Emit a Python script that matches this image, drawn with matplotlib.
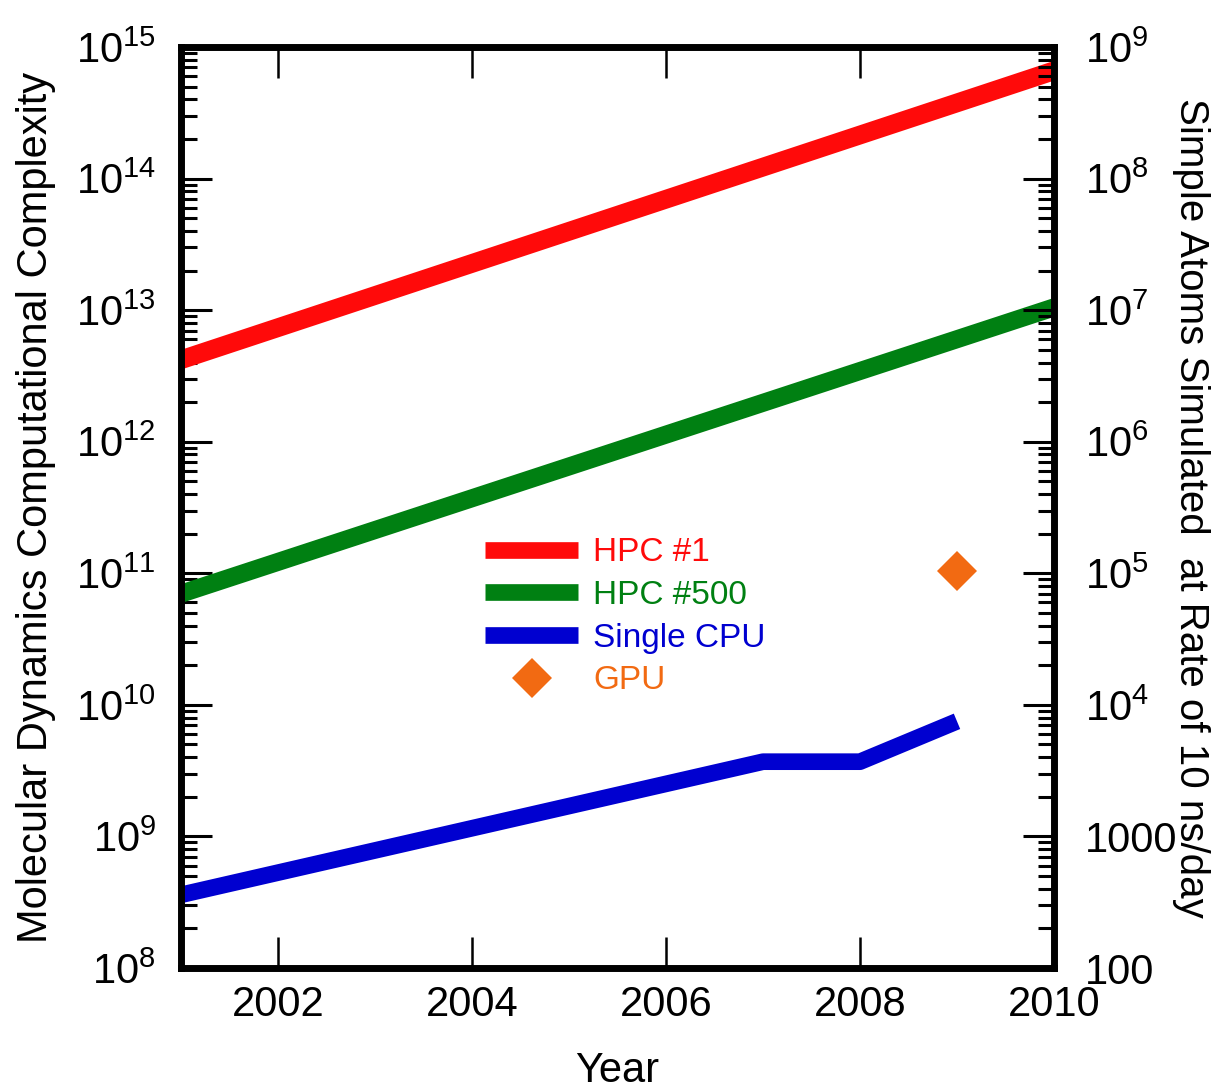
import matplotlib
matplotlib.use("Agg")
import matplotlib.pyplot as plt
from matplotlib.ticker import LogLocator, FixedLocator, FixedFormatter, NullFormatter
from matplotlib.lines import Line2D

plt.rcParams['font.family'] = ['Liberation Sans', 'DejaVu Sans']
plt.rcParams['mathtext.fontset'] = 'custom'
plt.rcParams['mathtext.rm'] = 'Liberation Sans'
plt.rcParams['mathtext.it'] = 'Liberation Sans'

# ---- data ----
hpc1_years = [2001, 2010]
hpc1_values = [4.2e12, 6.6e14]
hpc500_years = [2001, 2010]
hpc500_values = [7.0e10, 1.05e13]
cpu_years = [2001, 2007, 2008, 2009]
cpu_values = [3.6e8, 3.7e9, 3.7e9, 7.5e9]
gpu_years = [2009]
gpu_values = [1.05e11]

x_ticks = [2002, 2004, 2006, 2008, 2010]
x_ticklabels = ['2002', '2004', '2006', '2008', '2010']
right_ticks = [1e2, 1e3, 1e4, 1e5, 1e6, 1e7, 1e8, 1e9]
right_ticklabels = ['100', '1000', r'$\mathdefault{10^{4}}$', r'$\mathdefault{10^{5}}$',
                    r'$\mathdefault{10^{6}}$', r'$\mathdefault{10^{7}}$',
                    r'$\mathdefault{10^{8}}$', r'$\mathdefault{10^{9}}$']

c_red = '#ff0a0a'
c_green = '#008012'
c_blue = '#0000d0'
c_orange = '#f26a12'

fig = plt.figure(figsize=(12.24, 10.89), dpi=100)
ax = fig.add_axes([0.1479, 0.1111, 0.7132, 0.8457])

ax.plot(hpc1_years, hpc1_values, color=c_red, lw=13.5, solid_capstyle='butt', label='HPC #1')
ax.plot(hpc500_years, hpc500_values, color=c_green, lw=13, solid_capstyle='butt', label='HPC #500')
ax.plot(cpu_years, cpu_values, color=c_blue, lw=12, solid_capstyle='butt', label='Single CPU')
ax.plot(gpu_years, gpu_values, ls='none', marker='D', ms=20, color=c_orange,
        markeredgewidth=0, label='GPU')

ax.set_yscale('log')
ax.set_xlim(2001, 2010)
ax.set_ylim(1e8, 1e15)
ax.set_xticks(x_ticks)
ax.set_xticklabels(x_ticklabels)
ax.xaxis.set_minor_locator(FixedLocator([]))
ax.yaxis.set_major_locator(LogLocator(base=10, numticks=20))
ax.yaxis.set_minor_locator(LogLocator(base=10, subs=range(2, 10), numticks=20))
ax.yaxis.set_minor_formatter(NullFormatter())

for s in ax.spines.values():
    s.set_linewidth(4.8)

ax.tick_params(axis='x', which='major', direction='in', length=22, width=1.8,
               top=True, bottom=True, labelsize=30, pad=12)
ax.tick_params(axis='y', which='major', direction='in', length=22, width=2.2,
               left=True, right=False, labelsize=30, pad=18)
ax.tick_params(axis='y', which='minor', direction='in', length=11.5, width=2.2,
               left=True, right=False)

ax2 = ax.twinx()
ax2.set_yscale('log')
ax2.set_ylim(1e2, 1e9)
ax2.yaxis.set_major_locator(FixedLocator(right_ticks))
ax2.yaxis.set_major_formatter(FixedFormatter(right_ticklabels))
ax2.yaxis.set_minor_locator(LogLocator(base=10, subs=range(2, 10), numticks=20))
ax2.yaxis.set_minor_formatter(NullFormatter())
ax2.tick_params(axis='y', which='major', direction='in', length=22, width=2.2,
                labelsize=30, pad=22)
ax2.tick_params(axis='y', which='minor', direction='in', length=11.5, width=2.2)
for s in ax2.spines.values():
    s.set_linewidth(4.8)

ax.set_ylabel('Molecular Dynamics Computational Complexity', fontsize=30, labelpad=14)
ax2.set_ylabel('Simple Atoms Simulated  at Rate of 10 ns/day', fontsize=29,
               rotation=-90, labelpad=24)
ax.set_xlabel('Year', fontsize=30, labelpad=19)

handles = [
    Line2D([], [], color=c_red, lw=12, solid_capstyle='butt'),
    Line2D([], [], color=c_green, lw=12, solid_capstyle='butt'),
    Line2D([], [], color=c_blue, lw=12, solid_capstyle='butt'),
    Line2D([], [], ls='none', marker='D', ms=20, color=c_orange, markeredgewidth=0),
]
labels = ['HPC #1', 'HPC #500', 'Single CPU', 'GPU']
leg = ax.legend(handles, labels, loc='upper left', bbox_to_anchor=(0.333, 0.482),
                frameon=False, fontsize=24, handlelength=2.8, handletextpad=0.45,
                labelspacing=0.35, borderaxespad=0)
for t, c in zip(leg.get_texts(), [c_red, c_green, c_blue, c_orange]):
    t.set_color(c)

fig.savefig('out.png', dpi=100)
